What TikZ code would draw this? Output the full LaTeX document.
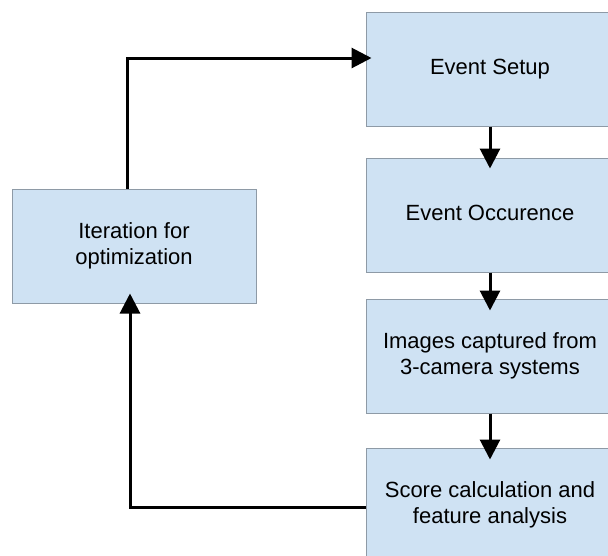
\documentclass[tikz,border=0pt]{standalone}
\usepackage{fontspec}
\setmainfont{Liberation Sans}
\usetikzlibrary{positioning,arrows.meta}

\definecolor{boxblue}{HTML}{CFE2F3}
\definecolor{boxline}{HTML}{8E9AA6}

\tikzstyle{process} = [rectangle, minimum width=248pt, minimum height=114pt, align=center, inner sep=0pt, fill=boxblue, draw=boxline, line width=1pt, font=\fontsize{22}{26}\selectfont]
\tikzstyle{arrow} = [line width=3pt, -{Triangle[width=20pt,length=20pt]}]

\begin{document}
\begin{tikzpicture}[node distance=146pt]
        \clip (0,0) rectangle (608pt,-555pt);

            \node (setup) [process] at (490pt,-69pt) {\raisebox{4pt}{Event Setup}};
            \node (occur) [process, below of=setup] {\raisebox{4pt}{Event Occurence}};
            \node (images) [process, below of=occur, node distance=141pt] {Images captured from\\ 3-camera systems};
            \node (score) [process, below of=images, node distance=149pt] {Score calculation and\\feature analysis};
            \node (iter) [process, minimum width=244pt] at (134pt,-246pt) {Iteration for\\optimization};

            \coordinate (upbend) at (127pt,-58pt);
            \coordinate (lowbend) at (130pt,-507pt);

            \draw [arrow, shorten >=-11pt] (setup) -- (occur);
            \draw [arrow, shorten >=-12pt] (occur) -- (images);
            \draw [arrow, shorten >=-12pt] (images) -- (score);
            \draw [arrow, shorten >=-6pt] (iter.north -| upbend) -- (upbend) -- (setup.west |- upbend);
            \draw [arrow, shorten >=-10pt] (score.west |- lowbend) -- (lowbend) -- (iter.south -| lowbend);

    \end{tikzpicture}
\end{document}
